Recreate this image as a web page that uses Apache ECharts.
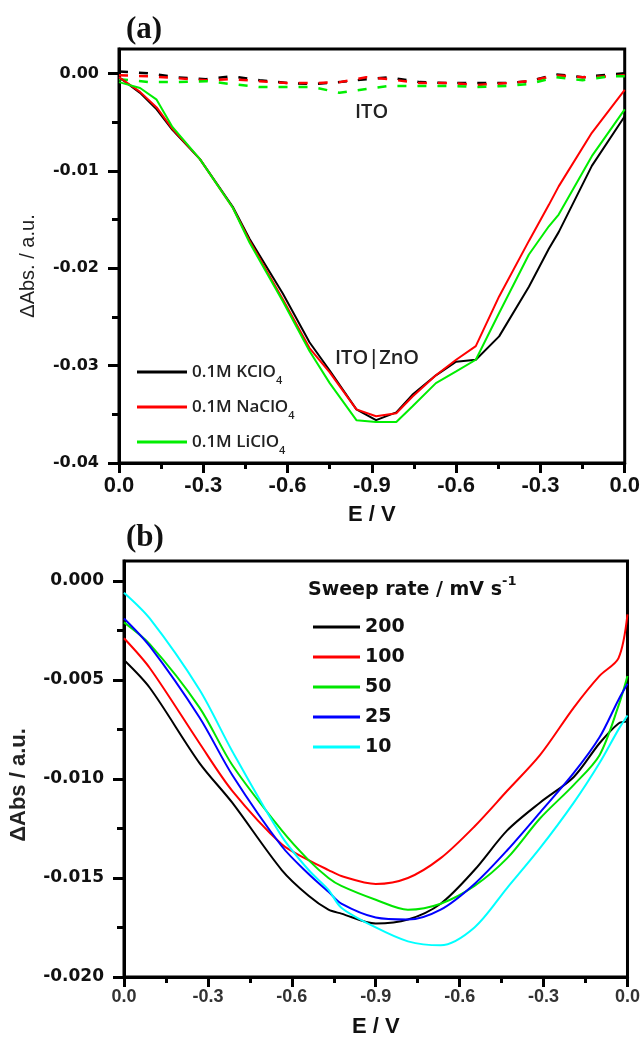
<!DOCTYPE html>
<html>
<head>
<meta charset="utf-8">
<script src="https://cdn.jsdelivr.net/npm/echarts@6/dist/echarts.min.js"></script>
<style>
  html, body { margin: 0; padding: 0; background: #fff; }
  #chart { width: 643px; height: 1040px; }
</style>
</head>
<body>
<div id="chart"></div>
<script>
// Potential axis: distance travelled along the cyclic sweep, in V
// (0 -> 0.9 is the cathodic scan 0.0 -> -0.9 V, 0.9 -> 1.8 is the return to 0.0 V)
const eTickLabels = ['0.0', '-0.3', '-0.6', '-0.9', '-0.6', '-0.3', '0.0'];

// ---------- Panel (a): ITO|ZnO in different perchlorate electrolytes ----------
const sweepA = [0, 0.075, 0.134, 0.19, 0.288, 0.405, 0.465, 0.583, 0.678, 0.75, 0.845, 0.915,
                0.987, 1.044, 1.128, 1.2, 1.27, 1.353, 1.459, 1.53, 1.565, 1.683, 1.8];
const kclo4  = [-0.0004, -0.0020, -0.0037, -0.0058, -0.0088, -0.0137, -0.0170, -0.0226, -0.0276, -0.0305, -0.0345, -0.0356,
                -0.0348, -0.0330, -0.0310, -0.0296, -0.0294, -0.0270, -0.0219, -0.0180, -0.0163, -0.0095, -0.0044];
const naclo4 = [-0.0004, -0.0019, -0.0035, -0.0057, -0.0088, -0.0138, -0.0172, -0.0232, -0.0282, -0.0307, -0.0345, -0.0352,
                -0.0349, -0.0332, -0.0310, -0.0294, -0.0280, -0.0229, -0.0172, -0.0135, -0.0116, -0.0061, -0.0017];
const liclo4 = [-0.0009, -0.0015, -0.0027, -0.0055, -0.0088, -0.0138, -0.0174, -0.0234, -0.0285, -0.0318, -0.0356, -0.0358,
                -0.0358, -0.0342, -0.0318, -0.0306, -0.0294, -0.0246, -0.0186, -0.0157, -0.0145, -0.0085, -0.0037];

// bare ITO reference scans (dashed)
const sweepITO = [0, 0.11, 0.205, 0.31, 0.40, 0.50, 0.60, 0.69, 0.785, 0.88, 0.96, 1.07, 1.19, 1.27,
                  1.38, 1.46, 1.555, 1.65, 1.75, 1.8];
const itoK  = [0.0002, 0, -0.0004, -0.0006, -0.0003, -0.0007, -0.0010, -0.0011, -0.0009, -0.0006, -0.0004, -0.0009,
               -0.0010, -0.0010, -0.0010, -0.0008, -0.0001, -0.0004, -0.0001, 0];
const itoNa = [-0.0002, -0.0003, -0.0005, -0.0007, -0.0006, -0.0008, -0.0010, -0.0010, -0.0009, -0.0004, -0.0006, -0.0010,
               -0.0010, -0.0012, -0.0010, -0.0008, -0.0002, -0.0004, -0.0003, -0.0002];
const itoLi = [-0.0006, -0.0009, -0.0009, -0.0008, -0.0011, -0.0014, -0.0014, -0.0014, -0.0020, -0.0016, -0.0013, -0.0013,
               -0.0013, -0.0014, -0.0013, -0.0011, -0.0004, -0.0007, -0.0003, -0.0003];

const electrolytes = ['0.1M KClO4', '0.1M NaClO4', '0.1M LiClO4'];
const yTicksA = [-0.04, -0.03, -0.02, -0.01, 0];

// ---------- Panel (b): sweep-rate dependence ----------
const sweepB = [0, 0.092, 0.27, 0.387, 0.564, 0.66, 0.731, 0.777, 0.9, 1.015, 1.132, 1.253,
                1.37, 1.487, 1.608, 1.70, 1.768, 1.8];
const rate200 = [-0.0040, -0.0054, -0.0092, -0.0112, -0.0146, -0.0159, -0.0166, -0.0168, -0.0173, -0.0171, -0.0163, -0.0146,
                 -0.0126, -0.0112, -0.0099, -0.0082, -0.0072, -0.0071];
const rate100 = [-0.0029, -0.0044, -0.0082, -0.0106, -0.0133, -0.0141, -0.0146, -0.0149, -0.0153, -0.0150, -0.0140, -0.0124,
                 -0.0106, -0.0088, -0.0064, -0.0048, -0.0039, -0.0017];
const rate50  = [-0.0021, -0.0032, -0.0064, -0.0093, -0.0126, -0.0141, -0.0150, -0.0154, -0.0161, -0.0166, -0.0163, -0.0154,
                 -0.0140, -0.0120, -0.0103, -0.0088, -0.0063, -0.0048];
const rate25  = [-0.0019, -0.0033, -0.0069, -0.0098, -0.0134, -0.0148, -0.0157, -0.0163, -0.0170, -0.0171, -0.0166, -0.0153,
                 -0.0136, -0.0117, -0.0097, -0.0079, -0.0060, -0.0052];
const rate10  = [-0.0006, -0.0019, -0.0055, -0.0086, -0.0129, -0.0146, -0.0156, -0.0165, -0.0175, -0.0182, -0.0184, -0.0175,
                 -0.0155, -0.0135, -0.0112, -0.0092, -0.0075, -0.0068];

const sweepRates = ['200', '100', '50', '25', '10'];
const yTicksB = [-0.02, -0.015, -0.01, -0.005, 0];

const pair = (xs, ys) => xs.map((x, i) => [x, ys[i]]);

const AXIS_BLACK = '#000';
const LABEL_DARK = '#111';

function xAxis(gridIndex, labelStyle, nameGap) {
  return {
    type: 'value', gridIndex, min: 0, max: 1.8, interval: 0.3,
    name: 'E / V', nameLocation: 'middle', nameGap,
    nameTextStyle: { fontFamily: 'Liberation Sans', fontWeight: 'bold', fontSize: 22, color: '#111' },
    axisLine: { show: true, onZero: false, lineStyle: { color: AXIS_BLACK, width: 3 } },
    axisTick: { show: true, length: 10, lineStyle: { color: AXIS_BLACK, width: 3 } },
    minorTick: { show: true, splitNumber: 2, length: 6, lineStyle: { color: AXIS_BLACK, width: 3 } },
    splitLine: { show: false }, minorSplitLine: { show: false },
    axisLabel: Object.assign({
      formatter: v => eTickLabels[Math.round(v / 0.3)]
    }, labelStyle)
  };
}

function yAxis(gridIndex, min, max, interval, ticks, digits, fontSize) {
  return {
    type: 'value', gridIndex, min, max, interval,
    axisLine: { show: true, onZero: false, lineStyle: { color: AXIS_BLACK, width: 3 } },
    axisTick: { show: true, length: 11, customValues: ticks, lineStyle: { color: AXIS_BLACK, width: 3 } },
    minorTick: { show: true, splitNumber: 2, length: 7, lineStyle: { color: AXIS_BLACK, width: 3 } },
    splitLine: { show: false }, minorSplitLine: { show: false },
    axisLabel: {
      customValues: ticks, margin: 20,
      formatter: v => (Math.abs(v) < 1e-12 ? 0 : v).toFixed(digits),
      fontFamily: 'DejaVu Sans', fontWeight: 'bold', fontSize, color: LABEL_DARK
    }
  };
}

function solid(name, xs, ys, color, xi, smooth) {
  return {
    name, type: 'line', xAxisIndex: xi, yAxisIndex: xi, data: pair(xs, ys),
    showSymbol: false, symbol: 'none', color, smooth: smooth ? 0.3 : false,
    lineStyle: { color, width: 2 }
  };
}

function dashed(name, xs, ys, color) {
  return {
    name, type: 'line', xAxisIndex: 0, yAxisIndex: 0, data: pair(xs, ys),
    showSymbol: false, symbol: 'none', color,
    lineStyle: { color, width: 2.5, type: [9, 11] }
  };
}

const colorsA = ['#000000', '#ff0000', '#00ee00'];
const colorsB = ['#000000', '#ff0000', '#00e600', '#0000ff', '#00ffff'];

const option = {
  animation: false,
  backgroundColor: '#fff',
  textStyle: { fontFamily: 'Liberation Sans' },
  grid: [
    { left: 119, top: 49, width: 507, height: 414, show: true, borderColor: AXIS_BLACK, borderWidth: 3, backgroundColor: 'transparent' },
    { left: 124, top: 561, width: 507, height: 416, show: true, borderColor: AXIS_BLACK, borderWidth: 3, backgroundColor: 'transparent' }
  ],
  xAxis: [
    xAxis(0, { margin: 12, fontFamily: "'Liberation Sans Narrow', 'Liberation Sans'", fontWeight: 'bold', fontSize: 22, color: LABEL_DARK }, 41),
    xAxis(1, { margin: 11, fontFamily: 'Liberation Sans', fontWeight: 'bold', fontSize: 18, color: '#333' }, 39)
  ],
  yAxis: [
    yAxis(0, -0.04, 0.0025, 0.01, yTicksA, 2, 16),
    yAxis(1, -0.02, 0.001, 0.005, yTicksB, 3, 17)
  ],
  legend: [
    {
      data: electrolytes, orient: 'vertical', left: 132, top: 353,
      itemWidth: 50, itemHeight: 3, itemGap: 7, icon: 'rect', selectedMode: false,
      formatter: name => name.slice(0, -1) + '{s|' + name.slice(-1) + '}',
      textStyle: {
        fontFamily: 'Open Sans', fontWeight: 600, fontSize: 17, color: '#222', lineHeight: 28,
        rich: { s: { fontFamily: 'Open Sans', fontWeight: 600, fontSize: 11, lineHeight: 11, verticalAlign: 'bottom', color: '#222' } }
      }
    },
    {
      data: sweepRates, orient: 'vertical', left: 308, top: 612,
      itemWidth: 47, itemHeight: 3, itemGap: 10, icon: 'rect', selectedMode: false,
      textStyle: { fontFamily: 'DejaVu Sans', fontWeight: 'bold', fontSize: 19, color: '#111', lineHeight: 20 }
    }
  ],
  graphic: [
    { type: 'text', x: 126, y: 30, style: { text: '(a)', font: 'bold 31px "Liberation Serif"', fill: '#111', align: 'left', verticalAlign: 'middle', textAlign: 'left', textVerticalAlign: 'middle' } },
    { type: 'text', x: 126, y: 538, style: { text: '(b)', font: 'bold 31px "Liberation Serif"', fill: '#111', align: 'left', verticalAlign: 'middle', textAlign: 'left', textVerticalAlign: 'middle' } },
    { type: 'text', x: 28, y: 266, rotation: Math.PI / 2, style: { text: '\u0394Abs. / a.u.', font: '20px "Liberation Sans"', fill: '#222', align: 'center', verticalAlign: 'middle', textAlign: 'center', textVerticalAlign: 'middle' } },
    { type: 'text', x: 19, y: 785, rotation: Math.PI / 2, style: { text: '\u0394Abs / a.u.', font: 'bold 22px "Liberation Sans"', fill: '#222', align: 'center', verticalAlign: 'middle', textAlign: 'center', textVerticalAlign: 'middle' } },
    { type: 'text', x: 355, y: 112, style: { text: 'ITO', font: '600 20px "Open Sans"', fill: '#222', align: 'left', verticalAlign: 'middle', textAlign: 'left', textVerticalAlign: 'middle' } },
    { type: 'text', x: 335, y: 358, style: { text: 'ITO|ZnO', font: '600 20px "Open Sans"', fill: '#222', align: 'left', verticalAlign: 'middle', textAlign: 'left', textVerticalAlign: 'middle' } },
    {
      type: 'text', x: 308, y: 590,
      style: {
        text: 'Sweep rate / mV s{sup|-1}', font: 'bold 19px "DejaVu Sans"', fill: '#111',
        align: 'left', verticalAlign: 'middle', textAlign: 'left', textVerticalAlign: 'middle', lineHeight: 30,
        rich: { sup: { font: 'bold 13px "DejaVu Sans"', fontSize: 13, fontWeight: 'bold', fontFamily: 'DejaVu Sans', lineHeight: 13, verticalAlign: 'top', fill: '#111' } }
      }
    }
  ],
  series: [
    dashed('ITO ' + electrolytes[0], sweepITO, itoK, colorsA[0]),
    dashed('ITO ' + electrolytes[1], sweepITO, itoNa, colorsA[1]),
    dashed('ITO ' + electrolytes[2], sweepITO, itoLi, colorsA[2]),
    solid(electrolytes[0], sweepA, kclo4, colorsA[0], 0, false),
    solid(electrolytes[1], sweepA, naclo4, colorsA[1], 0, false),
    solid(electrolytes[2], sweepA, liclo4, colorsA[2], 0, false),
    solid(sweepRates[0], sweepB, rate200, colorsB[0], 1, true),
    solid(sweepRates[1], sweepB, rate100, colorsB[1], 1, true),
    solid(sweepRates[2], sweepB, rate50, colorsB[2], 1, true),
    solid(sweepRates[3], sweepB, rate25, colorsB[3], 1, true),
    solid(sweepRates[4], sweepB, rate10, colorsB[4], 1, true)
  ]
};

const chart = echarts.init(document.getElementById('chart'), null, { renderer: 'canvas' });
chart.setOption(option);
</script>
</body>
</html>
